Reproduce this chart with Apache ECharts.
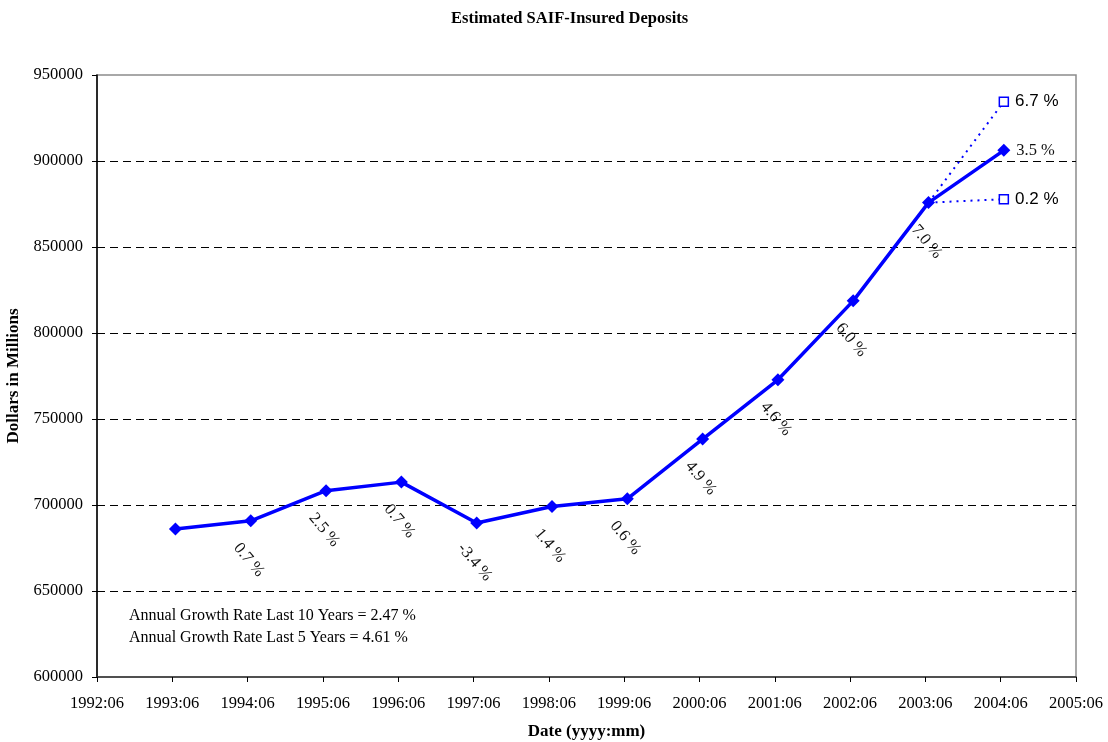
<!DOCTYPE html>
<html>
<head>
<meta charset="utf-8">
<script src="https://cdn.jsdelivr.net/npm/echarts@6/dist/echarts.min.js"></script>
<style>html,body{margin:0;padding:0;background:#fff;}#c{width:1108px;height:742px;}</style>
</head>
<body>
<div id="c"></div>
<script>
// ---- data ----
var tickLabels = ['1992:06','1993:06','1994:06','1995:06','1996:06','1997:06','1998:06','1999:06','2000:06','2001:06','2002:06','2003:06','2004:06','2005:06'];
var dates = ['1993:06','1994:06','1995:06','1996:06','1997:06','1998:06','1999:06','2000:06','2001:06','2002:06','2003:06','2004:06'];
var deposits = [686000, 690800, 708300, 713300, 689500, 699100, 703600, 738300, 772800, 818700, 875800, 906200];
var growth = ['', '0.7 %', '2.5 %', '0.7 %', '-3.4 %', '1.4 %', '0.6 %', '4.9 %', '4.6 %', '6.0 %', '7.0 %', '3.5 %'];
var highDates = ['2003:06', '2004:06'];
var highValues = [875800, 934500];
var highLabel = '6.7 %';
var lowDates = ['2003:06', '2004:06'];
var lowValues = [875800, 877800];
var lowLabel = '0.2 %';
var notes = ['Annual Growth Rate Last 10 Years = 2.47 %', 'Annual Growth Rate Last 5 Years = 4.61 %'];

var SERIF = "'Times New Roman','Liberation Serif',serif";
var SANS = "Arial,'Liberation Sans',sans-serif";

// months since 1992:06, data recorded mid-month
function toX(d) { var p = d.split(':'); return (parseInt(p[0]) - 1992) * 12 + (parseInt(p[1]) - 6) + 0.5; }

var mainData = dates.map(function (d, i) {
  var item = { value: [toX(d), deposits[i]] };
  if (i === 0) {
    item.label = { show: false };
  } else if (i === dates.length - 1) {
    item.label = { show: true, position: 'right', distance: 6, rotate: 0, offset: [0, 0], align: 'left', verticalAlign: 'middle', formatter: growth[i] };
  } else {
    item.label = { show: true, formatter: growth[i] };
  }
  return item;
});

function projData(ds, vs, lbl) {
  return ds.map(function (d, i) {
    var it = { value: [toX(d), vs[i]] };
    if (i === 0) { it.symbol = 'none'; it.label = { show: false }; }
    else { it.label = { show: true, position: 'right', distance: 6, formatter: lbl, fontFamily: SANS, fontSize: 17, color: '#000' }; }
    return it;
  });
}

var chart = echarts.init(document.getElementById('c'));
chart.setOption({
  animation: false,
  backgroundColor: '#fff',
  title: {
    text: 'Estimated SAIF-Insured Deposits',
    left: 446, top: 5,
    textStyle: { fontFamily: SERIF, fontWeight: 'bold', fontSize: 16.5, color: '#000' }
  },
  grid: { left: 97, right: 32, top: 75, bottom: 65, outerBoundsMode: 'none', containLabel: false,
    show: true, borderColor: '#8c8c8c', borderWidth: 1.5, backgroundColor: '#fff' },
  xAxis: {
    type: 'value', min: 0, max: 156, interval: 12,
    name: 'Date (yyyy:mm)', nameLocation: 'middle', nameGap: 46,
    nameTextStyle: { fontFamily: SERIF, fontWeight: 'bold', fontSize: 17, color: '#000' },
    axisLine: { show: true, lineStyle: { color: '#333', width: 1.5 } },
    axisTick: { show: true, length: 5, lineStyle: { color: '#000' } },
    axisLabel: { fontFamily: SERIF, fontSize: 16.5, color: '#000', margin: 18,
      formatter: function (v) { return tickLabels[Math.round(v / 12)] || ''; } },
    splitLine: { show: false }
  },
  yAxis: {
    type: 'value', min: 600000, max: 950000, interval: 50000,
    name: 'Dollars in Millions', nameLocation: 'middle', nameGap: 72, nameRotate: 90,
    nameTextStyle: { fontFamily: SERIF, fontWeight: 'bold', fontSize: 17, color: '#000' },
    axisLine: { show: true, lineStyle: { color: '#000', width: 1.5 } },
    axisTick: { show: true, length: 5, lineStyle: { color: '#000' } },
    axisLabel: { fontFamily: SERIF, fontSize: 16.5, color: '#000', margin: 14,
      formatter: function (v) { return String(v); } },
    splitLine: { show: true, showMinLine: false, showMaxLine: false, lineStyle: { color: '#000', type: [8, 5], width: 1 } }
  },
  graphic: [{
    type: 'text', left: 129, top: 605,
    style: { text: notes.join('\n'), font: '16px ' + SERIF, fill: '#000', lineHeight: 22 }
  }],
  series: [
    {
      type: 'line', name: 'high', z: 2,
      data: projData(highDates, highValues, highLabel),
      lineStyle: { color: '#0000ff', width: 2, type: [2, 5] },
      symbol: 'rect', symbolSize: 9,
      itemStyle: { color: '#fff', borderColor: '#0000ff', borderWidth: 1.5 }
    },
    {
      type: 'line', name: 'low', z: 2,
      data: projData(lowDates, lowValues, lowLabel),
      lineStyle: { color: '#0000ff', width: 2, type: [2, 5] },
      symbol: 'rect', symbolSize: 9,
      itemStyle: { color: '#fff', borderColor: '#0000ff', borderWidth: 1.5 }
    },
    {
      type: 'line', name: 'deposits', z: 3,
      data: mainData,
      lineStyle: { color: '#0000ff', width: 3.5 },
      symbol: 'diamond', symbolSize: 13,
      itemStyle: { color: '#0000ff' },
      label: {
        show: true, position: 'bottom', distance: 35, offset: [-3, 0], rotate: -50,
        align: 'center', verticalAlign: 'middle',
        fontFamily: SERIF, fontSize: 16.5, color: '#111'
      }
    }
  ]
});
</script>
</body>
</html>
